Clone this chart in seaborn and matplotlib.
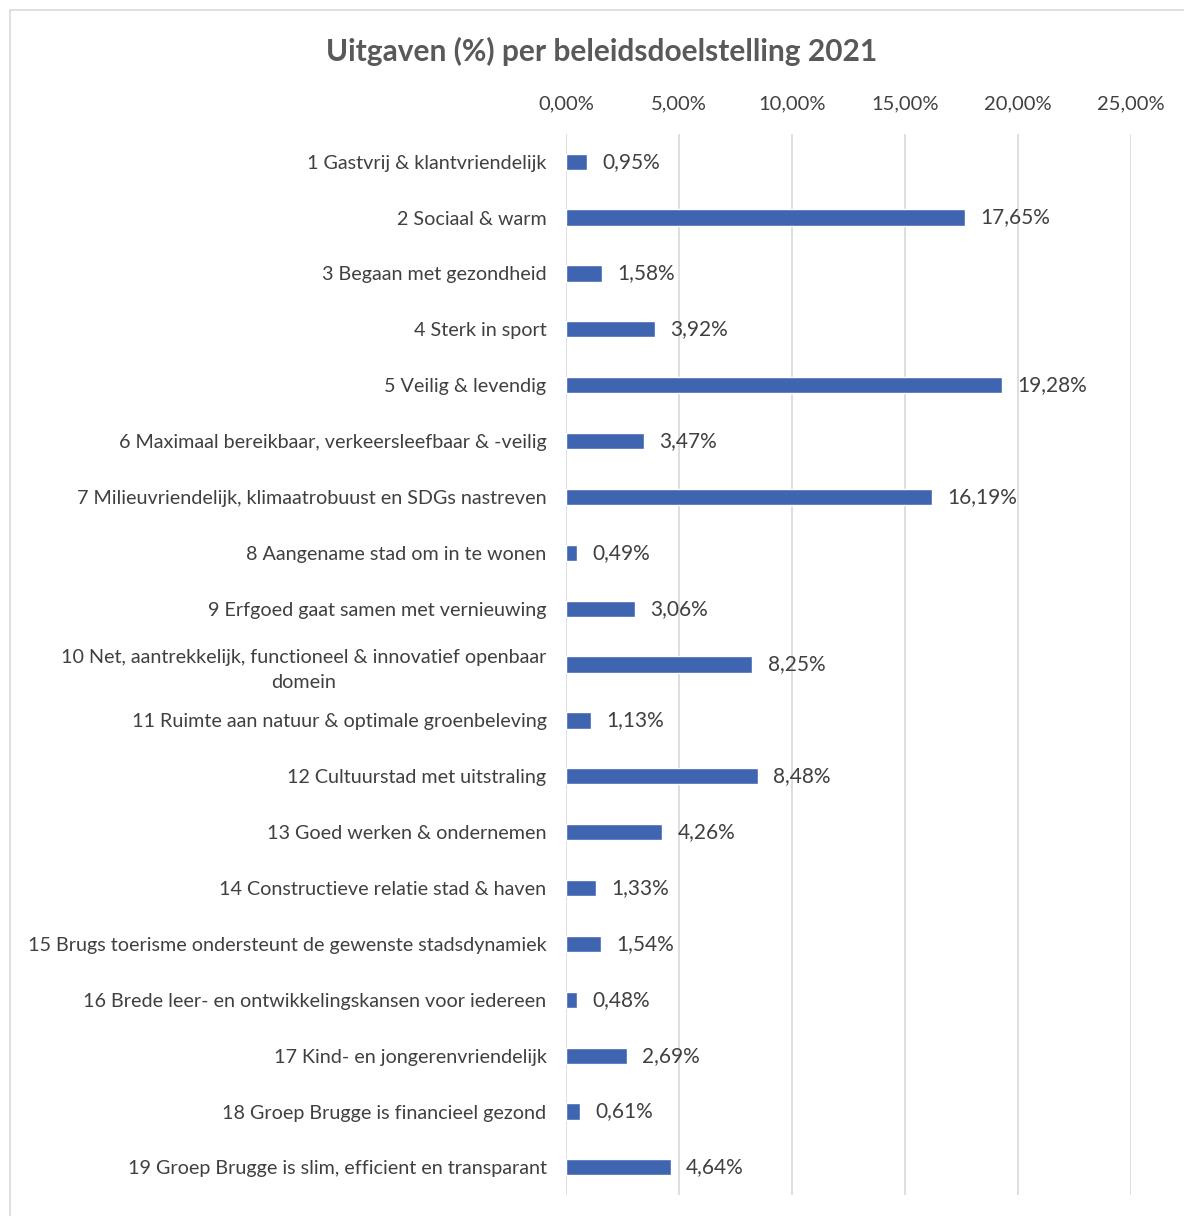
import matplotlib
matplotlib.use("Agg")
import matplotlib.pyplot as plt
import seaborn as sns
import pandas as pd
from matplotlib.patches import Rectangle
from matplotlib.ticker import FuncFormatter

# -------------------------------------------------------------------------
# DATA
# -------------------------------------------------------------------------
categories = [
    "1 Gastvrij & klantvriendelijk",
    "2 Sociaal & warm",
    "3 Begaan met gezondheid",
    "4 Sterk in sport",
    "5 Veilig & levendig",
    "6 Maximaal bereikbaar, verkeersleefbaar & -veilig",
    "7 Milieuvriendelijk, klimaatrobuust en SDGs nastreven",
    "8 Aangename stad om in te wonen",
    "9 Erfgoed gaat samen met vernieuwing",
    "10 Net, aantrekkelijk, functioneel & innovatief openbaar\ndomein",
    "11 Ruimte aan natuur & optimale groenbeleving",
    "12 Cultuurstad met uitstraling",
    "13 Goed werken & ondernemen",
    "14 Constructieve relatie stad & haven",
    "15 Brugs toerisme ondersteunt de gewenste stadsdynamiek",
    "16 Brede leer- en ontwikkelingskansen voor iedereen",
    "17 Kind- en jongerenvriendelijk",
    "18 Groep Brugge is financieel gezond",
    "19 Groep Brugge is slim, efficient en transparant",
]
percentages = [0.95, 17.65, 1.58, 3.92, 19.28, 3.47, 16.19, 0.49, 3.06, 8.25,
               1.13, 8.48, 4.26, 1.33, 1.54, 0.48, 2.69, 0.61, 4.64]
x_ticks = [0, 5, 10, 15, 20, 25]
title = "Uitgaven (%) per beleidsdoelstelling 2021"

BAR_COLOR = "#3F65B0"
TEXT_COLOR = "#404040"
GRID_COLOR = "#D9D9D9"


def pct(v):
    return f"{v:.2f}".replace(".", ",") + "%"


df = pd.DataFrame({"doel": categories, "pct": percentages})

sns.set_style("white")
plt.rcParams["font.family"] = ["Lato", "DejaVu Sans"]

fig = plt.figure(figsize=(11.84, 12.16), dpi=100)
ax = fig.add_axes([0.478, 0.017, 0.477, 0.873])

sns.barplot(data=df, x="pct", y="doel", orient="h", color=BAR_COLOR,
            width=0.29, saturation=1, ax=ax)

ax.set_xlim(0, 25)
ax.set_xticks(x_ticks)
ax.xaxis.set_major_formatter(FuncFormatter(lambda v, _: pct(v)))
ax.xaxis.tick_top()
ax.tick_params(axis="x", length=0, pad=15.5, labelsize=14.5, labelcolor=TEXT_COLOR)
ax.tick_params(axis="y", length=0, pad=14, labelsize=14.2, labelcolor=TEXT_COLOR)
for lbl in ax.get_yticklabels():
    lbl.set_horizontalalignment("right")
    lbl.set_multialignment("center")
    lbl.set_linespacing(1.55)
ax.set_xlabel("")
ax.set_ylabel("")
ax.grid(axis="x", color=GRID_COLOR, linewidth=1.2)
ax.set_axisbelow(True)
for s in ax.spines.values():
    s.set_visible(False)

# data labels
for i, v in enumerate(percentages):
    ax.annotate(pct(v), xy=(v, i), xytext=(11, 0), textcoords="offset points",
                va="center", ha="left", fontsize=15, color=TEXT_COLOR)

fig.text(0.508, 0.958, title, ha="center", va="center", fontsize=21.5,
         fontweight="bold", color="#595959")

# chart frame
fig.patches.append(Rectangle((10 / 1184, -0.01), 1.1, 1.01 - 10 / 1216,
                             transform=fig.transFigure, fill=False,
                             edgecolor=GRID_COLOR, linewidth=1.2))

fig.savefig("out.png", dpi=100)
